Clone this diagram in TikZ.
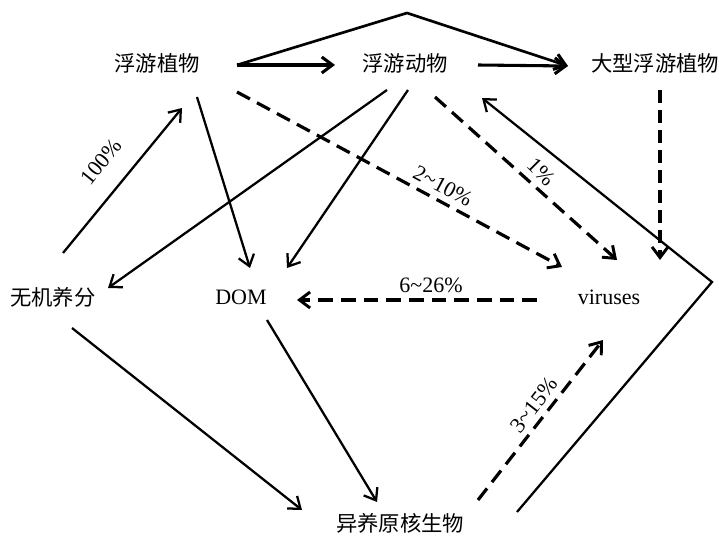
\documentclass[tikz,border=0pt]{standalone}
\usepackage{fontspec}
\setmainfont{Liberation Serif}
\newfontfamily\cjk{Noto Sans CJK SC}
\usetikzlibrary{arrows.meta}
\begin{document}
\begin{tikzpicture}[x=0.75pt,y=-0.75pt,
  lbl/.style={font=\fontsize{16.5}{19}\selectfont, inner sep=0pt},
  cn/.style={font=\cjk\fontsize{16}{19}\selectfont, inner sep=0pt},
  solidarr/.style={line width=1.7pt, -{Straight Barb[length=8pt,width=12pt,line width=1.7pt]}},
  dasharr/.style={line width=2.4pt, dash pattern=on 11pt off 6pt, -{Straight Barb[length=8pt,width=12pt,line width=2.2pt]}},
  boldarr/.style={line width=2.3pt, -{Straight Barb[length=8pt,width=12pt,line width=2.3pt]}},
  ]
\useasboundingbox (0,0) rectangle (719,545);
% nodes
\node[cn] (pp) at (157,63) {浮游植物};
\node[cn] (zp) at (405,63) {浮游动物};
\node[cn] (mp) at (655,63) {大型浮游植物};
\node[cn] (nut) at (53,297) {无机养分};
\node[lbl] (dom) at (241,297) {DOM};
\node[lbl] (vir) at (609,297) {viruses};
\node[cn] (het) at (400,523) {异养原核生物};
\coordinate (peak) at (407,13);
\coordinate (corner) at (712,282);
% top connectors
\draw[boldarr] ([shift={(80,2)}]pp.center) -- ([shift={(-70,2)}]zp.center);
\draw[boldarr] ([shift={(73,2)}]zp.center) -- ([shift={(-87,3)}]mp.center);
\draw[boldarr,line width=2pt] ([shift={(80,2)}]pp.center) -- (peak) -- ([shift={(-87,3)}]mp.center);
% phytoplankton
\draw[dasharr] ([shift={(80,29)}]pp.center) -- ([shift={(-47,-30)}]vir.center);
\draw[solidarr] ([shift={(40,34)}]pp.center) -- ([shift={(9,-29)}]dom.center);
\draw[solidarr] ([shift={(10,-44)}]nut.center) -- ([shift={(25,45)}]pp.center);
% zooplankton
\draw[solidarr] ([shift={(-18,27)}]zp.center) -- ([shift={(55,-9)}]nut.center);
\draw[solidarr] ([shift={(3,27)}]zp.center) -- ([shift={(46,-29)}]dom.center);
\draw[dasharr] ([shift={(30,34)}]zp.center) -- ([shift={(8,-37)}]vir.center);
% macro
\draw[dasharr, dash pattern=on 10pt off 5pt] ([shift={(5,27)}]mp.center) -- ([shift={(51,-37)}]vir.center);
% viruses to DOM
\draw[dasharr] ([shift={(-72,3)}]vir.center) -- ([shift={(56,3)}]dom.center);
% to heterotrophs
\draw[solidarr] ([shift={(19,31)}]nut.center) -- ([shift={(-98,-13)}]het.center);
\draw[solidarr] ([shift={(26,23)}]dom.center) -- ([shift={(-23,-21)}]het.center);
\draw[dasharr] ([shift={(78,-23)}]het.center) -- ([shift={(-6,43)}]vir.center);
\draw[solidarr] ([shift={(117,-11)}]het.center) -- (corner) -- ([shift={(77,35)}]zp.center);
% labels
\node[lbl, rotate=51] (l100) at (101,162) {100\%};
\node[lbl, rotate=-28] (l210) at (443,186) {2\char`\~10\%};
\node[lbl, rotate=-45] (l1) at (541,172) {1\%};
\node[lbl] (l626) at (431,285) {6\char`\~26\%};
\node[lbl, rotate=52] (l315) at (534,405) {3\char`\~15\%};
\end{tikzpicture}
\end{document}
